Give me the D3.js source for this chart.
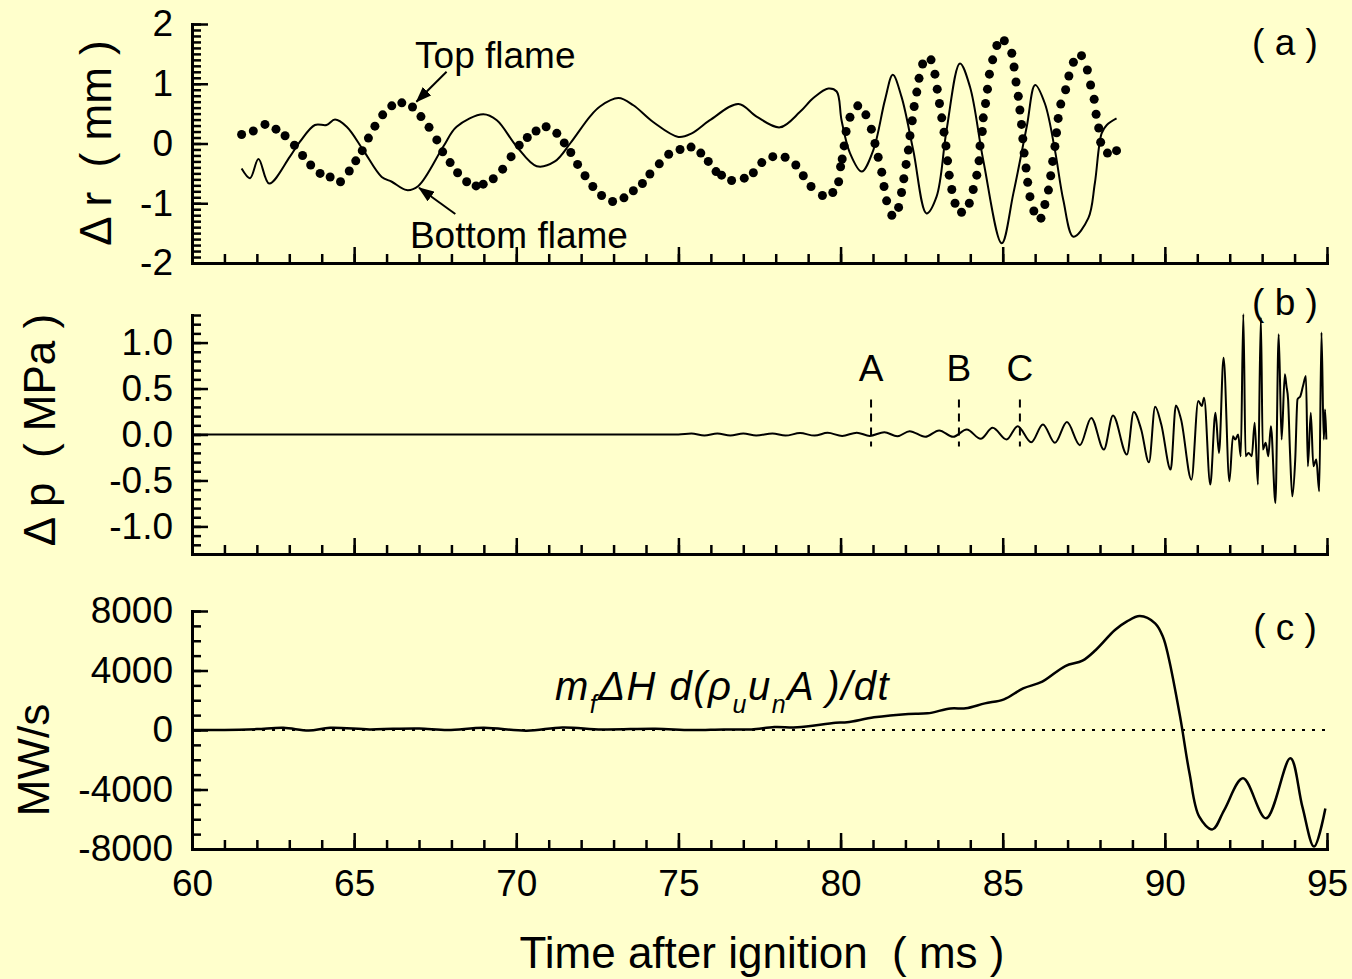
<!DOCTYPE html>
<html>
<head>
<meta charset="utf-8">
<script src="https://cdn.jsdelivr.net/npm/d3@7"></script>
<style>
  html, body { margin: 0; padding: 0; background: #ffffcc; }
  svg { display: block; }
  text { font-family: "Liberation Sans", Arial, sans-serif; fill: #000; white-space: pre; }
</style>
</head>
<body>
<svg id="chart" width="1352" height="979"></svg>
<script>
// ---- time axis ----
const timeTicks = [60, 65, 70, 75, 80, 85, 90, 95];

// ---- (a) flame displacement, mm ----
const rTicks = [-2, -1, 0, 1, 2];
// bottom flame (solid line)
const bottomT = [61.53, 61.79, 62.05, 62.38, 63.02, 63.33, 63.79, 64.15, 64.41, 64.77, 65.28, 65.85, 66.16, 66.62, 66.98,
  67.75, 68.16, 68.98, 69.40, 70.01, 70.63, 71.19, 71.66, 72.27, 72.58, 73.15, 73.61, 74.22, 75.00, 75.41, 75.97,
  76.85, 77.41, 78.13, 78.75, 79.16, 79.62, 79.88, 80.03, 80.29, 80.65, 81.01, 81.37, 81.61, 81.88, 82.24, 82.65,
  82.96, 83.27, 83.68, 83.99, 84.40, 84.97, 85.33, 85.74, 86.00, 86.30, 86.61, 86.87, 87.18, 87.64, 87.84, 88.05,
  88.21, 88.51];
const bottomR = [-0.42, -0.58, -0.26, -0.67, -0.22, 0.03, 0.31, 0.31, 0.40, 0.28, -0.11, -0.56, -0.64, -0.78, -0.71,
  -0.05, 0.28, 0.49, 0.39, -0.05, -0.38, -0.30, 0.00, 0.45, 0.62, 0.76, 0.64, 0.36, 0.11, 0.17, 0.39,
  0.66, 0.45, 0.27, 0.53, 0.76, 0.92, 0.87, 0.39, -0.16, -0.47, -0.11, 0.73, 1.15, 0.78, -0.11, -1.17,
  -0.89, 0.23, 1.34, 0.95, -0.28, -1.67, -0.83, 0.28, 0.98, 0.67, -0.11, -0.95, -1.56, -1.25, -0.67, 0.17,
  0.31, 0.42];
// top flame (dots)
const topT = [61.53, 61.89, 62.25, 62.59, 62.87, 63.16, 63.41, 63.66, 63.95, 64.26, 64.58, 64.85, 65.05, 65.25, 65.44,
  65.64, 65.88, 66.16, 66.47, 66.80, 67.06, 67.31, 67.55, 67.73, 67.96, 68.19, 68.47, 68.76, 68.98, 69.29, 69.58,
  69.84, 70.09, 70.34, 70.61, 70.92, 71.25, 71.48, 71.68, 71.89, 72.12, 72.36, 72.63, 72.97, 73.32, 73.61, 73.89,
  74.12, 74.41, 74.70, 75.05, 75.39, 75.69, 75.92, 76.16, 76.33, 76.64, 77.03, 77.31, 77.57, 77.91, 78.29, 78.62,
  78.85, 79.09, 79.44, 79.76, 79.94, 80.00, 80.05, 80.11, 80.17, 80.29, 80.53, 80.78, 80.95, 81.06, 81.16, 81.27,
  81.34, 81.42, 81.58, 81.79, 81.88, 81.95, 82.02, 82.09, 82.14, 82.21, 82.27, 82.35, 82.42, 82.53, 82.79, 82.91,
  82.98, 83.05, 83.12, 83.19, 83.25, 83.30, 83.35, 83.43, 83.53, 83.73, 83.97, 84.09, 84.20, 84.27, 84.30, 84.37,
  84.40, 84.47, 84.53, 84.59, 84.69, 84.82, 85.05, 85.28, 85.35, 85.41, 85.48, 85.53, 85.58, 85.62, 85.66, 85.72,
  85.77, 85.84, 85.96, 86.18, 86.30, 86.41, 86.48, 86.54, 86.61, 86.66, 86.71, 86.79, 86.94, 87.04, 87.18, 87.43,
  87.61, 87.71, 87.82, 87.88, 87.96, 88.02, 88.23, 88.51];
const topR = [0.15, 0.21, 0.32, 0.24, 0.13, -0.03, -0.20, -0.36, -0.50, -0.56, -0.64, -0.46, -0.29, -0.12, 0.09,
  0.29, 0.48, 0.63, 0.68, 0.61, 0.45, 0.27, 0.06, -0.14, -0.32, -0.49, -0.64, -0.71, -0.68, -0.59, -0.43,
  -0.22, -0.03, 0.10, 0.21, 0.28, 0.17, 0.01, -0.15, -0.35, -0.54, -0.72, -0.87, -0.97, -0.91, -0.79, -0.67,
  -0.51, -0.34, -0.18, -0.10, -0.06, -0.16, -0.30, -0.47, -0.53, -0.62, -0.58, -0.49, -0.32, -0.22, -0.23, -0.36,
  -0.54, -0.72, -0.87, -0.82, -0.64, -0.39, -0.26, -0.04, 0.20, 0.44, 0.63, 0.48, 0.24, 0.00, -0.23, -0.48,
  -0.72, -0.96, -1.20, -1.07, -0.82, -0.59, -0.35, -0.11, 0.13, 0.38, 0.62, 0.86, 1.09, 1.33, 1.40, 1.16,
  0.91, 0.67, 0.43, 0.19, -0.04, -0.29, -0.53, -0.77, -1.00, -1.15, -1.00, -0.77, -0.53, -0.29, -0.04, 0.20,
  0.43, 0.67, 0.91, 1.16, 1.40, 1.64, 1.72, 1.51, 1.28, 1.03, 0.79, 0.56, 0.32, 0.08, -0.16, -0.41,
  -0.65, -0.89, -1.13, -1.25, -1.02, -0.78, -0.54, -0.30, -0.05, 0.18, 0.42, 0.66, 0.90, 1.13, 1.36, 1.47,
  1.23, 0.98, 0.74, 0.49, 0.26, 0.02, -0.16, -0.12];

// ---- (b) pressure, MPa ----
const pTicks = [-1.0, -0.5, 0.0, 0.5, 1.0];
const pressT = [60.0, 75.0, 75.4, 75.8, 76.2, 76.6, 77.0, 77.4, 77.9, 78.3, 78.75, 79.2, 79.6, 80.05, 80.5, 80.9, 81.35, 81.75,
  82.13, 82.61, 83.04, 83.47, 83.89, 84.32, 84.69, 85.12, 85.46, 85.88, 86.24, 86.61, 86.98, 87.38, 87.73, 88.12,
  88.40, 88.83, 89.04, 89.27, 89.51, 89.70, 89.89, 90.18, 90.34, 90.50, 90.82, 91.03, 91.14, 91.21, 91.40, 91.56,
  91.67, 91.81, 91.99, 92.10, 92.17, 92.26, 92.34, 92.42, 92.49, 92.58, 92.68, 92.77, 92.87, 92.96, 93.02, 93.11,
  93.19, 93.27, 93.41, 93.51, 93.60, 93.70, 93.75, 93.80, 93.86, 93.93, 94.02, 94.09, 94.18, 94.26, 94.35, 94.41,
  94.50, 94.58, 94.67, 94.76, 94.83, 94.90, 94.94, 94.98];
const pressV = [0.0, 0.0, 0.01, -0.01, 0.01, -0.01, 0.012, -0.01, 0.012, -0.012, 0.015, -0.012, 0.018, -0.015, 0.02, -0.015, 0.025, -0.02,
  0.036, -0.025, 0.044, -0.025, 0.055, -0.047, 0.073, -0.055, 0.091, -0.084, 0.109, -0.091, 0.135, -0.116, 0.18, -0.164,
  0.207, -0.218, 0.244, 0.055, -0.302, 0.302, 0.109, -0.382, 0.316, 0.164, -0.491, 0.364, 0.31, 0.40, -0.545, 0.236,
  -0.20, 0.836, -0.509, -0.02, -0.055, 0.0, -0.236, 1.309, -0.236, -0.20, -0.236, 0.127, -0.545, 1.273, -0.164, -0.091,
  -0.236, 0.091, -0.745, 1.091, -0.055, 0.655, 0.527, 0.382, -0.20, -0.673, -0.273, 0.382, 0.418, 0.527, 0.636, -0.345,
  0.236, -0.345, -0.273, -0.618, 1.109, -0.055, 0.273, -0.055];
// marked instants
const markNames = ['A', 'B', 'C'];
const markT = [80.94, 83.65, 85.53];

// ---- (c) rate of heat release change, MW/s ----
const qTicks = [-8000, -4000, 0, 4000, 8000];
const heatT = [60.0, 61.0, 62.0, 62.82, 63.6, 64.26, 65.47, 66.2, 67.01, 67.89, 69.0, 70.32, 71.42, 72.64, 74.29, 75.40,
  76.4, 77.25, 77.96, 78.67, 79.85, 80.20, 81.03, 82.09, 82.68, 83.39, 83.86, 84.45, 85.04, 85.63, 86.22, 86.93,
  87.46, 87.87, 88.46, 88.82, 89.23, 89.70, 89.94, 90.11, 90.47, 90.76, 91.06, 91.47, 91.83, 92.41, 93.12, 93.87,
  94.24, 94.60, 94.95];
const heatV = [0, 0, 60, 150, -40, 150, 40, 80, 100, 0, 150, -50, 170, 40, 80, 0,
  40, 40, 200, 180, 490, 515, 850, 1080, 1120, 1450, 1460, 1790, 2060, 2800, 3250, 4300,
  4660, 5380, 6720, 7280, 7660, 7170, 6270, 4930, 900, -2910, -5830, -6680, -5380, -3250, -5940, -1900,
  -5150, -7840, -5270];

// ---- layout ----
const W = 1352, H = 979;
const svg = d3.select('#chart');
svg.append('rect').attr('width', W).attr('height', H).attr('fill', '#ffffcc');

const x = d3.scaleLinear().domain([60, 95]).range([192, 1327]);
const yA = d3.scaleLinear().domain([-2, 2]).range([263, 24]);
const yB = d3.scaleLinear().domain([-1.3, 1.3]).range([554, 315]);
const yC = d3.scaleLinear().domain([-8000, 8000]).range([849, 611]);

const zip = (a, b) => a.map((v, i) => [v, b[i]]);
const fs = 37;

function styleAxis(g) {
  g.select('.domain').attr('stroke', '#000').attr('stroke-width', 3).attr('stroke-linecap', 'square');
  g.selectAll('.tick line').attr('stroke', '#000').attr('stroke-width', 2.5);
  g.selectAll('.tick text').attr('font-size', fs).attr('font-family', '"Liberation Sans", Arial, sans-serif');
}

function drawYAxis(y, major, minorStep, fmt) {
  const [lo, hi] = y.domain();
  const minor = d3.range(Math.round(lo / minorStep), Math.round(hi / minorStep) + 1).map(k => k * minorStep);
  svg.append('g').attr('transform', `translate(${x.range()[0]},0)`)
    .call(d3.axisLeft(y).tickValues(minor).tickSize(-9).tickSizeOuter(0).tickFormat(''))
    .call(styleAxis);
  svg.append('g').attr('transform', `translate(${x.range()[0]},0)`)
    .call(d3.axisLeft(y).tickValues(major).tickSize(-16).tickSizeOuter(0).tickPadding(19).tickFormat(fmt))
    .call(styleAxis);
}

function drawXAxis(y, labels) {
  const yb = y.range()[0];
  const minor = d3.range(60, 96, 1);
  svg.append('g').attr('transform', `translate(0,${yb})`)
    .call(d3.axisBottom(x).tickValues(minor).tickSize(-9).tickSizeOuter(0).tickFormat(''))
    .call(styleAxis);
  svg.append('g').attr('transform', `translate(0,${yb})`)
    .call(d3.axisBottom(x).tickValues(timeTicks).tickSize(-16).tickSizeOuter(0).tickPadding(21)
      .tickFormat(labels ? (d => String(d)) : ''))
    .call(styleAxis);
}

// axes
drawYAxis(yA, rTicks, 0.1, d => String(d));
drawXAxis(yA, false);
drawYAxis(yB, pTicks, 0.1, d => d.toFixed(1));
drawXAxis(yB, false);
drawYAxis(yC, qTicks, 1000, d => String(d));
drawXAxis(yC, true);

// ---- panel (a) ----
svg.append('path')
  .datum(zip(bottomT, bottomR))
  .attr('fill', 'none').attr('stroke', '#000').attr('stroke-width', 2)
  .attr('d', d3.line().x(d => x(d[0])).y(d => yA(d[1])).curve(d3.curveCatmullRom.alpha(0.5)));

svg.append('g').selectAll('circle')
  .data(zip(topT, topR)).join('circle')
  .attr('cx', d => x(d[0])).attr('cy', d => yA(d[1])).attr('r', 4.5).attr('fill', '#000');

// arrow marker
svg.append('defs').append('marker')
  .attr('id', 'arrow').attr('viewBox', '0 0 16 12').attr('refX', 15).attr('refY', 6)
  .attr('markerWidth', 16).attr('markerHeight', 12).attr('markerUnits', 'userSpaceOnUse')
  .attr('orient', 'auto')
  .append('path').attr('d', 'M0,0 L16,6 L0,12 Z').attr('fill', '#000');

function arrow(t0, v0, t1, v1, y) {
  svg.append('line')
    .attr('x1', x(t0)).attr('y1', y(v0)).attr('x2', x(t1)).attr('y2', y(v1))
    .attr('stroke', '#000').attr('stroke-width', 2).attr('marker-end', 'url(#arrow)');
}
arrow(67.85, 1.2, 66.92, 0.7, yA);
arrow(68.12, -1.18, 67.0, -0.74, yA);

svg.append('text').attr('x', x(66.88)).attr('y', yA(1.26)).attr('font-size', 37).text('Top flame');
svg.append('text').attr('x', x(66.72)).attr('y', yA(-1.75)).attr('font-size', 37).text('Bottom flame');

// ---- panel (b) ----
svg.append('path')
  .datum(zip(pressT, pressV))
  .attr('fill', 'none').attr('stroke', '#000').attr('stroke-width', 2).attr('stroke-linejoin', 'round')
  .attr('d', d3.line().x(d => x(d[0])).y(d => yB(d[1])).curve(d3.curveMonotoneX));

markNames.forEach((name, i) => {
  svg.append('line')
    .attr('x1', x(markT[i])).attr('x2', x(markT[i]))
    .attr('y1', yB(0.38)).attr('y2', yB(-0.13))
    .attr('stroke', '#000').attr('stroke-width', 2).attr('stroke-dasharray', '8,6');
  svg.append('text').attr('x', x(markT[i])).attr('y', yB(0.585))
    .attr('text-anchor', 'middle').attr('font-size', 37).text(name);
});

// ---- panel (c) ----
svg.append('line')
  .attr('x1', x(60)).attr('x2', x(95)).attr('y1', yC(0)).attr('y2', yC(0))
  .attr('stroke', '#000').attr('stroke-width', 2).attr('stroke-dasharray', '3,7');

svg.append('path')
  .datum(zip(heatT, heatV))
  .attr('fill', 'none').attr('stroke', '#000').attr('stroke-width', 2.5)
  .attr('d', d3.line().x(d => x(d[0])).y(d => yC(d[1])).curve(d3.curveCatmullRom.alpha(0.5)));

// formula label
const formula = svg.append('text').attr('x', x(71.19)).attr('y', yC(2000))
  .attr('font-size', 40).style('font-style', 'italic').style('letter-spacing', '1.5px');
formula.append('tspan').text('m');
formula.append('tspan').attr('dy', 13).attr('font-size', 25).text('f');
formula.append('tspan').attr('dy', -13).text('ΔH d(ρ');
formula.append('tspan').attr('dy', 13).attr('font-size', 25).text('u');
formula.append('tspan').attr('dy', -13).text('u');
formula.append('tspan').attr('dy', 13).attr('font-size', 25).text('n');
formula.append('tspan').attr('dy', -13).text('A )/dt');

// panel tags
[['( a )', yA, 1.48], ['( b )', yB, 1.3], ['( c )', yC, 6050]].forEach(([t, y, v]) => {
  svg.append('text').attr('x', 1285).attr('y', y(v)).attr('text-anchor', 'middle')
    .attr('font-size', 37).text(t);
});

// axis titles
svg.append('text').attr('x', 762).attr('y', 968).attr('text-anchor', 'middle')
  .attr('font-size', 44).text('Time after ignition  ( ms )');

function yTitle(txt, cx, cy) {
  svg.append('text').attr('transform', `translate(${cx},${cy}) rotate(-90)`)
    .attr('text-anchor', 'middle').attr('dy', '0.35em').attr('font-size', 44).text(txt);
}
yTitle('Δ r  ( mm )', 96, 143);
yTitle('Δ p  ( MPa )', 40, 430);
yTitle('MW/s', 34, 760);
</script>
</body>
</html>
